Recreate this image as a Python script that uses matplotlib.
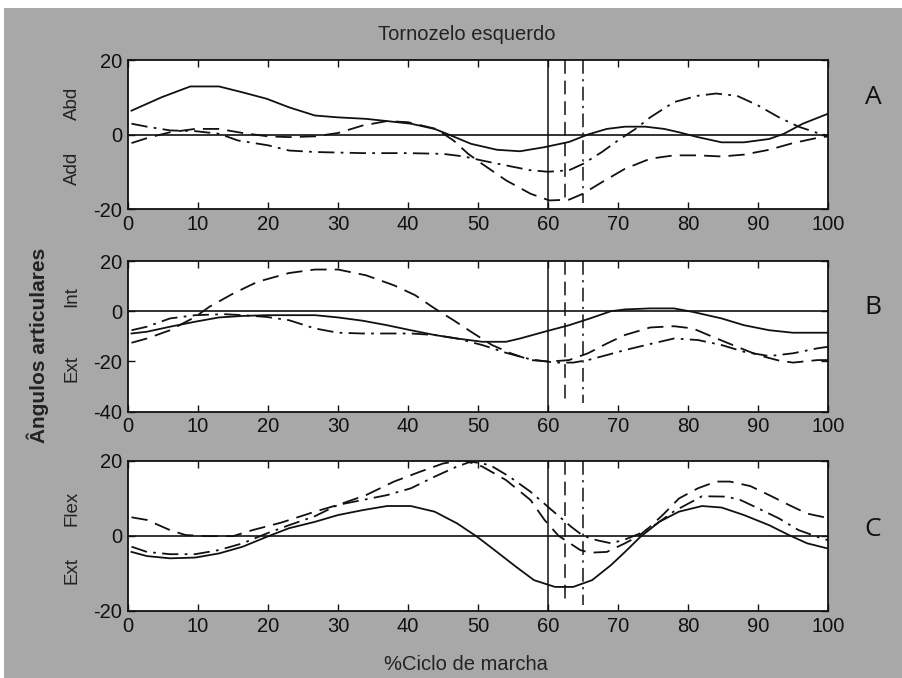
import matplotlib
matplotlib.use("Agg")
import matplotlib.pyplot as plt
from matplotlib.patches import Rectangle

plt.rcParams['font.family'] = ['Liberation Sans', 'DejaVu Sans']
plt.rcParams['axes.unicode_minus'] = False

# ---------------- data ----------------
x_ticks = [0, 10, 20, 30, 40, 50, 60, 70, 80, 90, 100]
event_x = [60, 62.5, 65]          # solid, dashed, dash-dot vertical markers

# Panel A (Abd / Add)
A_solid_x = [0.5, 4.8, 8.9, 13, 16.4, 19.8, 23, 26.7, 30, 34, 37, 40.4, 43.8, 45.8, 49, 52.7, 56, 59.5, 63, 65.7,
             68.4, 71, 73.9, 76.6, 78.7, 81.4, 84.8, 88, 91.6, 93.7, 96.4, 99.9]
A_solid_y = [6.4, 10, 12.9, 12.9, 11.3, 9.6, 7.3, 5.1, 4.6, 4.2, 3.6, 2.9, 1.5, 0, -2.5, -4.1, -4.5, -3.4, -2, 0,
             1.5, 2.1, 2.1, 1.5, 0.6, -0.7, -2.1, -2.1, -1.2, 0.2, 2.9, 5.5]
A_dash_x = [0.5, 3, 6, 9.6, 13, 16.4, 20, 23, 26.7, 30, 33.5, 37, 40, 44, 46.5, 48.6, 50.6, 54, 57.5, 60.2, 63, 65,
            67.7, 71, 74.6, 78, 81.4, 84.8, 88, 91.6, 95, 98.5, 100]
A_dash_y = [-2.3, -0.8, 0.6, 1.5, 1.5, 0.4, -0.5, -0.7, -0.5, 0.4, 2.4, 3.6, 3.3, 1.5, -1.6, -5.2, -7.9, -12.3, -15.9,
            -17.7, -17.5, -15.9, -12.8, -9.2, -6.5, -5.6, -5.6, -5.9, -5.4, -4.1, -2.3, -0.9, -0.5]
A_dd_x = [0.5, 2.7, 6, 9.6, 13, 15.7, 20, 23, 26.7, 33.5, 40, 45, 48, 50.6, 54, 57.5, 60, 63, 65, 67.7, 70, 72.5,
          74.6, 78, 81.4, 84, 87, 90, 93, 95.8, 98.5, 100]
A_dd_y = [2.9, 2.1, 1.1, 0.9, 0.2, -1.6, -2.9, -4.3, -4.7, -5, -5, -5.2, -5.9, -7, -8.3, -9.6, -10, -9.6, -7.9, -4.7,
          -1.6, 1.5, 4.6, 8.7, 10.4, 11, 10.4, 7.8, 4.6, 2.1, 0.4, -0.3]

# Panel B (Int / Ext)
B_solid_x = [0.5, 2.7, 6, 9.6, 13, 16.4, 19.8, 23, 26.7, 30, 33.5, 37, 40.4, 43.8, 47, 50.6, 54, 56, 59.5, 63, 66,
             69, 71, 74.6, 78, 80.7, 84.8, 88, 91.6, 95, 100]
B_solid_y = [-8.9, -8.2, -6.2, -4.2, -2.5, -1.9, -1.6, -1.6, -1.6, -2.5, -3.8, -5.6, -7.6, -9.5, -10.9, -12.2, -12.2,
             -10.9, -8.2, -5.6, -2.9, 0, 0.7, 1.1, 1.1, -0.3, -2.9, -5.6, -7.6, -8.6, -8.6]
B_dash_x = [0.5, 2.7, 6, 9.6, 11.6, 15, 18.5, 23, 26.7, 30, 34, 38, 41, 43.8, 46.5, 49, 52, 54.7, 57.5, 60.2, 63,
            65.7, 68.4, 71, 74.6, 78, 80.7, 83.5, 87, 90, 93, 95, 98.5, 100]
B_dash_y = [-12.6, -10.9, -7.6, -2.3, 1.7, 7, 11.7, 15.2, 16.6, 16.6, 14.3, 10.3, 6.4, 1.1, -3.6, -8.2, -13.5, -16.8,
            -19.5, -20.1, -19.5, -16.8, -12.9, -9.5, -6.5, -6, -6.9, -10.2, -14.2, -17.5, -19.7, -20.5, -19.5, -19.5]
B_dd_x = [0.5, 2.7, 6, 9.6, 13.7, 16.4, 19.8, 23, 26.7, 30, 33.5, 37, 40.4, 43.8, 47, 50.6, 54, 57.5, 61, 63.6,
          65.7, 68.4, 71, 74.6, 78, 81.4, 84.8, 88, 91.6, 95, 98.5, 100]
B_dd_y = [-7.6, -6.2, -2.9, -1.6, -1.2, -1.6, -2.3, -3.6, -6.9, -8.6, -8.9, -8.9, -8.9, -9.5, -10.9, -13.5, -16.6,
          -19.2, -20.5, -20.5, -19.5, -17.5, -15.5, -13.1, -10.9, -11.5, -13.5, -16.2, -17.9, -16.8, -14.8, -14.2]

# Panel C (Flex / Ext)
C_solid_x = [0.5, 2.7, 6, 9.6, 13, 16.4, 19.8, 23, 26.7, 30, 33.5, 37, 40.4, 43.8, 47, 49.9, 52.7, 55.4, 58, 61,
             63.6, 66.3, 69, 71, 73.2, 75.9, 78.7, 82, 84.8, 88, 91.6, 94.4, 97, 100]
C_solid_y = [-4.3, -5.4, -6, -5.8, -4.7, -2.9, -0.3, 2, 3.7, 5.5, 6.8, 7.9, 7.9, 6.4, 3.3, -0.3, -4.3, -8.2, -11.8,
             -13.6, -13.6, -11.8, -7.8, -4.3, -0.3, 3.7, 6.4, 7.9, 7.5, 5.5, 2.8, 0.2, -2, -3.4]
C_dash_x = [0.5, 2.7, 6, 8.2, 11, 15, 17.8, 21.9, 26.7, 30, 34, 38, 41.7, 45, 47.9, 50.6, 54, 57.5, 59.5, 61.5,
            64.6, 66, 68.4, 71, 73, 74.6, 76.6, 78.7, 81.4, 84, 86, 88.9, 91.6, 94.4, 97, 99.5]
C_dash_y = [4.9, 4.2, 1.5, 0.2, -0.1, -0.1, 1.5, 3.5, 6.4, 8.2, 10.8, 14.4, 17, 19.2, 20.1, 18.4, 14.8, 9.5, 4.2, 0,
            -3.8, -4.5, -4.3, -2, 0, 2.4, 5.9, 9.9, 12.6, 14.4, 14.4, 13.2, 10.8, 8.2, 5.9, 4.9]
C_dd_x = [0.5, 2.7, 6, 9.6, 13, 16.4, 19.8, 23, 26.7, 30, 33.5, 37, 40.4, 43.8, 47, 49, 51.7, 54.5, 57.5, 60.8,
          63.3, 65, 67, 69, 71, 73, 75, 78, 80, 82, 85.5, 87.5, 90, 93, 95.8, 98.5, 100]
C_dd_y = [-2.9, -4.3, -4.9, -4.9, -3.8, -2, 0.6, 2.8, 5.2, 8.2, 9.5, 10.8, 12.6, 15.7, 18.4, 19.7, 18.8, 15.7, 11.7,
          6.4, 2.4, 0, -1.2, -2, -1, 0.5, 2.5, 6.5, 8.5, 10.5, 10.4, 9.5, 7.3, 4.6, 1.5, -0.3, -1.2]

panels = [
    dict(sx=A_solid_x, sy=A_solid_y, dx=A_dash_x, dy=A_dash_y, ddx=A_dd_x, ddy=A_dd_y,
         ylim=(-20, 20), yticks=[-20, 0, 20], up="Abd", down="Add", letter="A"),
    dict(sx=B_solid_x, sy=B_solid_y, dx=B_dash_x, dy=B_dash_y, ddx=B_dd_x, ddy=B_dd_y,
         ylim=(-40, 20), yticks=[-40, -20, 0, 20], up="Int", down="Ext", letter="B"),
    dict(sx=C_solid_x, sy=C_solid_y, dx=C_dash_x, dy=C_dash_y, ddx=C_dd_x, ddy=C_dd_y,
         ylim=(-20, 20), yticks=[-20, 0, 20], up="Flex", down="Ext", letter="C"),
]

# ---------------- layout ----------------
W, H = 903, 678
fig = plt.figure(figsize=(W / 100, H / 100), dpi=100, facecolor='white')
fig.patches.append(Rectangle((4 / W, 0), 1, 1 - 8 / H, transform=fig.transFigure,
                             facecolor='#a8a8a8', edgecolor='none', zorder=-10))

boxes = [(60, 209), (261, 411.5), (460.5, 611)]   # top, bottom in pixels
left_px, right_px = 128, 828
letter_y = [98, 307, 529]
up_y = [103, 297, 508]
down_y = [168, 368, 570]

dash_style = (0, (9, 4.5))
dd_style = (0, (9, 3.5, 1.5, 3.5))
lc = '#111111'

for i, p in enumerate(panels):
    top, bot = boxes[i]
    ax = fig.add_axes([left_px / W, 1 - bot / H, (right_px - left_px) / W, (bot - top) / H])
    ax.set_facecolor('white')
    ax.set_xlim(0, 100)
    ax.set_ylim(*p['ylim'])
    ax.set_xticks(x_ticks)
    ax.set_yticks(p['yticks'])
    ax.tick_params(direction='in', length=5, width=1, top=True, right=True,
                   labelsize=14.5, pad=4, colors='#111111')
    for s in ax.spines.values():
        s.set_linewidth(1.3)
        s.set_color('#111111')
    ax.axhline(0, color=lc, lw=1.2)
    ymin, ymax = p['ylim']
    ax.axvline(event_x[0], color=lc, lw=1.1)
    ax.plot([event_x[1]] * 2, [ymax, ymin * 0.9], color=lc, lw=1.1, linestyle=dash_style)
    ax.plot([event_x[2]] * 2, [ymax, ymin * 0.92], color=lc, lw=1.1, linestyle=dd_style)
    ax.plot(p['sx'], p['sy'], color=lc, lw=1.3, linestyle='-')
    ax.plot(p['dx'], p['dy'], color=lc, lw=1.3, linestyle=dash_style)
    ax.plot(p['ddx'], p['ddy'], color=lc, lw=1.3, linestyle=dd_style)

    fig.text(72 / W, 1 - up_y[i] / H, p['up'], rotation=90, ha='center', va='center',
             fontsize=13.5, color='#222222')
    fig.text(72 / W, 1 - down_y[i] / H, p['down'], rotation=90, ha='center', va='center',
             fontsize=13.5, color='#222222')
    fig.text(873 / W, 1 - letter_y[i] / H, p['letter'], ha='center', va='center',
             fontsize=19, color='#111111', family=['Open Sans', 'DejaVu Sans'])

fig.text(467 / W, 1 - 35 / H, "Tornozelo esquerdo", ha='center', va='center', fontsize=14.5, color='#222222')
fig.text(466 / W, 1 - 665 / H, "%Ciclo de marcha", ha='center', va='center', fontsize=14.5, color='#222222')
fig.text(38 / W, 1 - 345 / H, "Ângulos articulares", rotation=90, ha='center', va='center',
         fontsize=15, fontweight='bold', color='#222222')

fig.savefig("out.png", dpi=100, facecolor=fig.get_facecolor())
